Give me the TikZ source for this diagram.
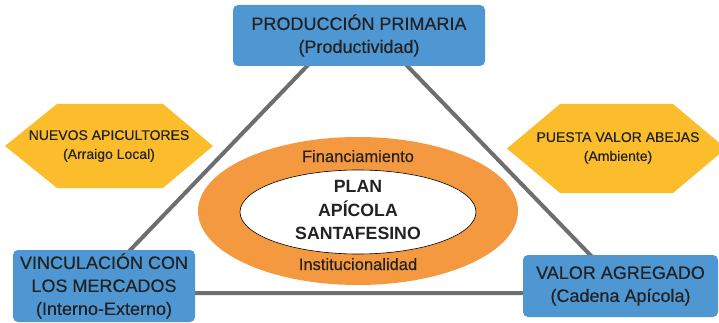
\documentclass[tikz,border=0pt]{standalone}
\usepackage{fontspec}
\setmainfont{Liberation Sans}
\newfontfamily\medfont{Liberation Sans}[FakeBold=0.4]
\usetikzlibrary{shapes.geometric}
\definecolor{boxblue}{HTML}{4F97D3}
\definecolor{hexyellow}{HTML}{FBBD2B}
\definecolor{ringorange}{HTML}{F4993F}
\definecolor{linegray}{HTML}{6E6E6E}
\definecolor{txt}{HTML}{222222}
\tikzset{
  triline/.style={draw=linegray, line width=4pt},
  bluebox/.style={fill=boxblue, rounded corners=5pt, inner sep=0pt, text=txt, align=center,
    font=\medfont\fontsize{18}{23}\selectfont},
  hexfill/.style={fill=hexyellow},
  hextext/.style={text=txt, align=center, inner sep=0pt, font=\medfont\fontsize{14}{19}\selectfont},
  ringtext/.style={text=txt, inner sep=0pt, font=\medfont\fontsize{16.5}{20}\selectfont},
}
\begin{document}
\begin{tikzpicture}[x=1pt,y=-1pt]
\useasboundingbox (0,0) rectangle (719,323);
% triangle
\coordinate (apex) at (357,14);
\coordinate (lv) at (89,293);
\coordinate (rv) at (627,293);
\draw[triline] (apex) -- (lv) -- (rv) -- cycle;
% hexagons
\fill[hexfill] (5,146) -- (57,104) -- (163,104) -- (213,146) -- (163,188) -- (57,188) -- cycle;
\node[hextext] (nuevos) at (109,146) {NUEVOS APICULTORES\\(Arraigo Local)};
\fill[hexfill] (507,148.5) -- (560,104) -- (673,104) -- (726,148.5) -- (673,193) -- (560,193) -- cycle;
\node[hextext] (puesta) at (618,148) {PUESTA VALOR ABEJAS\\(Ambiente)};
% ring
\node[ellipse, fill=ringorange, minimum width=320pt, minimum height=148pt] (ring) at (358,211) {};
\node[ellipse, fill=white, draw=black, line width=0.6pt, minimum width=236pt, minimum height=84pt] (core) at (358,212) {};
\node[text=txt, align=center, inner sep=0pt, font=\bfseries\fontsize{17.7}{23.5}\selectfont] (plan) at (358,210) {PLAN\\APÍCOLA\\SANTAFESINO};
\node[ringtext, anchor=base] (fin) at (358,162) {Financiamiento};
\node[ringtext, anchor=base] (inst) at (358,270) {Institucionalidad};
% blue boxes
\node[bluebox, minimum width=252pt, minimum height=61pt] (prod) at (359,35.5) {PRODUCCIÓN PRIMARIA\\(Productividad)};
\node[bluebox, minimum width=182pt, minimum height=72pt] (vinc) at (104,286) {VINCULACIÓN CON\\LOS MERCADOS\\(Interno-Externo)};
\node[bluebox, minimum width=195pt, minimum height=62pt] (valor) at (620.5,286) {VALOR AGREGADO\\(Cadena Apícola)};
\end{tikzpicture}
\end{document}
